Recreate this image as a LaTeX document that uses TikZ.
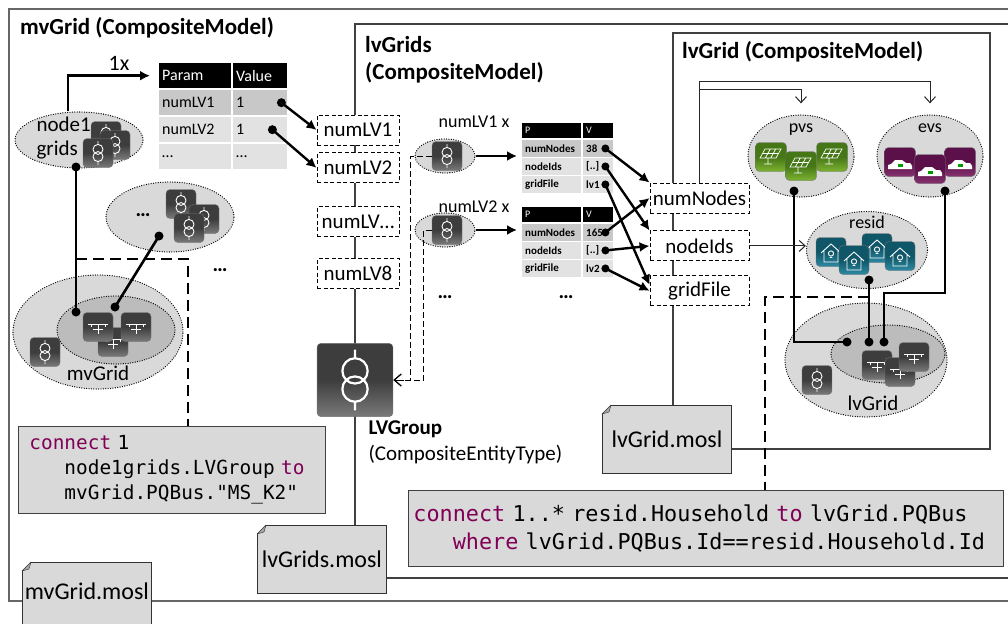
\documentclass[tikz,border=0pt]{standalone}
\usepackage{fontspec}
\setmainfont{Carlito}
\setmonofont{DejaVu Sans Mono}
\usetikzlibrary{arrows.meta,positioning,shapes.geometric}

\definecolor{grayTop}{HTML}{3D3D3D}
\definecolor{grayBottom}{HTML}{7A7A7A}
\definecolor{pvTop}{HTML}{467716}
\definecolor{pvBottom}{HTML}{7DB332}
\definecolor{evTop}{HTML}{5B1049}
\definecolor{evBottom}{HTML}{85326F}
\definecolor{hhTop}{HTML}{0F5668}
\definecolor{hhBottom}{HTML}{2E8AA3}
\definecolor{kw}{HTML}{7F0055}
\definecolor{cellDark}{HTML}{C8C8C8}
\definecolor{cellLight}{HTML}{E2E2E2}
\definecolor{codeFill}{HTML}{D9D9D9}
\definecolor{cloudFill}{HTML}{D9D9D9}
\definecolor{cloudCore}{HTML}{BCBCBC}

\begin{document}
\begin{tikzpicture}[x=1pt, y=-1pt,
    every node/.style={font=\fontsize{21}{24}\selectfont},
    title/.style={font=\fontsize{23}{27}\selectfont\bfseries, anchor=base west, align=left, inner sep=0pt},
    cloud/.style={ellipse, draw, line cap=round, dash pattern=on 0pt off 2.4pt, line width=1.3pt, fill=cloudFill, inner sep=0pt},
    core/.style={cloud, fill=cloudCore},
    slot/.style={draw, dash pattern=on 4pt off 2.5pt, line width=0.9pt, fill=white, minimum width=82pt, minimum height=30pt, inner sep=0pt},
    prop/.style={slot, minimum width=99pt},
    cell/.style={anchor=north west, text width=#1, inner xsep=3pt, inner ysep=0pt, align=left, fill=cellLight},
    big cell/.style={cell=#1, minimum height=25pt, font=\fontsize{16}{18}\selectfont},
    small cell/.style={cell=#1, minimum height=16.5pt, font=\fontsize{11}{13}\selectfont\bfseries},
    code/.style={draw=black!75, line width=0.9pt, fill=codeFill, anchor=north west, align=left, inner ysep=0pt},
    note/.style={draw=black!80, line width=0.9pt, fill=codeFill, anchor=north west, minimum width=129pt, minimum height=68pt, inner sep=0pt, font=\fontsize{24}{28}\selectfont},
    dot/.style={circle, fill, inner sep=0pt, minimum size=9pt},
    link/.style={line width=2.6pt},
    arr/.style={-{Latex[length=10pt, width=10pt]}, line width=2.4pt},
    thin arr/.style={-{Straight Barb[length=6pt, width=11pt]}, line width=1pt, black!85},
    dashed arr/.style={-{Straight Barb[length=7pt, width=12pt]}, dash pattern=on 6pt off 3pt, line width=1pt},
    bracket/.style={dash pattern=on 11pt off 6pt, line width=1.7pt},
    glyph/.style={white, line width=0.9pt},
    tile/.style 2 args={rounded corners=4pt, minimum width=30pt, minimum height=29pt, inner sep=0pt, draw=black!55, top color=#1, bottom color=#2, middle color=#1},
    trafo/.pic={
      \node[tile={grayTop}{grayBottom}] (-box) {};
      \draw[glyph] (0pt,3.6pt) circle (5pt) (0pt,-3.6pt) circle (5pt)
        (0pt,8.6pt) -- (0pt,12pt) (0pt,-8.6pt) -- (0pt,-12pt);
    },
    bus/.pic={
      \node[tile={grayTop}{grayBottom}] (-box) {};
      \draw[glyph] (-10pt,3pt) -- (10pt,3pt) (-7pt,3pt) -- (-7pt,0pt) (7pt,3pt) -- (7pt,0pt)
        (0pt,3pt) -- (0pt,-7pt) (-5pt,-2pt) -- (5pt,-2pt);
    },
    pv/.pic={
      \node[tile={pvTop}{pvBottom}, minimum width=31pt] (-box) {};
      \draw[glyph, line width=0.7pt] (-11pt,-1pt) -- (5pt,-1pt) -- (10pt,8pt) -- (-6pt,8pt) -- cycle
        (-5.7pt,-1pt) -- (-0.7pt,8pt) (-0.3pt,-1pt) -- (4.7pt,8pt) (-8.5pt,3.5pt) -- (7.5pt,3.5pt)
        (-3pt,-1pt) -- (-3pt,-7pt) (-7pt,-7pt) -- (1pt,-7pt);
    },
    ev/.pic={
      \node[tile={evTop}{evBottom}, minimum width=31pt] (-box) {};
      \fill[white] (-12pt,-7pt) -- (12pt,-7pt) -- (12pt,-4pt) .. controls (11pt,-1pt) .. (6pt,-1pt)
        -- (2pt,2pt) -- (-5pt,2pt) -- (-9pt,-2pt) -- (-12pt,-3pt) -- cycle;
      \fill[green!60!black] (-2pt,-5pt) rectangle (3pt,-2pt);
    },
    house/.pic={
      \node[tile={hhTop}{hhBottom}] (-box) {};
      \draw[glyph] (-10pt,-1pt) -- (0pt,8pt) -- (10pt,-1pt) (-7pt,1.5pt) -- (-7pt,-10pt) -- (7pt,-10pt) -- (7pt,1.5pt)
        (0pt,-1.5pt) circle (2.6pt) (-1.4pt,-5.5pt) -- (1.4pt,-5.5pt);
    },
    dogear/.pic={
      \fill[white] (-1pt,1pt) -- (10pt,1pt) -- (-1pt,-10pt) -- cycle;
      \draw[black!80, fill=black!35, line join=round] (9pt,0pt) -- (0pt,-9pt) -- (7pt,-7pt) -- cycle;
    }
]
\useasboundingbox (0,0) rectangle (1008,623);
\clip (0,0) rectangle (1008,623);
\fill[white] (0,0) rectangle (1008,623);

\draw[black!60, line width=1.8pt] (9,9) rectangle (1020,601);
\draw[black!75, line width=1.3pt] (355,24) rectangle (1020,578);
\draw[black!75, line width=1.1pt] (673,33) rectangle (990,449);

\node[title] (mvTitle) at (20,35) {mvGrid (CompositeModel)};
\node[title] (lvGridsTitle) at (365,80) {lvGrids\\(CompositeModel)};
\node[title] (lvGridTitle) at (682,59) {lvGrid (CompositeModel)};

% medium voltage grid
\node[cloud, minimum width=128pt, minimum height=56pt] (node1grids) at (79,140) {};
\node[anchor=base west, align=left] (node1Text) at (33,155) {node1\\grids};
\pic (n1TrafoA) at (106,136) {trafo};
\pic (n1TrafoB) at (115,145) {trafo};
\pic (n1TrafoC) at (98,153) {trafo};
\node[dot] (n1Dot) at (76,167) {};

\node[cloud, minimum width=128pt, minimum height=70pt] (moreGrids) at (170,217) {};
\node (moreText) at (143,215) {\textbf{…}};
\pic (mgTrafoA) at (181,204) {trafo};
\pic (mgTrafoB) at (204,219) {trafo};
\pic (mgTrafoC) at (189,228) {trafo};
\node[dot] (mgDot) at (159,236) {};
\node (mvMore) at (220,270) {\textbf{…}};

\node[cloud, minimum width=170pt, minimum height=114pt] (mvGrid) at (98,332) {};
\node[core, minimum width=118pt, minimum height=68pt] (mvBuses) at (116,330) {};
\node[anchor=base] (mvGridText) at (98,380) {mvGrid};
\pic (mvTrafo) at (45,352) {trafo};
\pic (mvBusB) at (113,342) {bus};
\pic (mvBusA) at (98,327) {bus};
\pic (mvBusC) at (136,327) {bus};
\node[dot] (mvDotA) at (76,312) {};
\node[dot] (mvDotB) at (115,307) {};
\draw[link] (n1Dot.center) -- (mvDotA.center);
\draw[link] (mgDot.center) -- (mvDotB.center);

\node[big cell=66pt, fill=black, text=white] (par-0-1) at (159,63) {Param};
\node[big cell=48pt, fill=black, text=white] (par-0-2) at (233,63) {Value};
\foreach \r/\y/\shade/\key/\val in {1/90/cellDark/numLV1/1, 2/117/cellLight/numLV2/1, 3/144/cellLight/…/…} {
  \node[big cell=66pt, fill=\shade] (par-\r-1) at (159,\y) {\key};
  \node[big cell=48pt, fill=\shade] (par-\r-2) at (233,\y) {\val};
}
\node[dot] (parDotA) at ([xshift=-6pt]par-1-2.east) {};
\node[dot] (parDotB) at ([xshift=-15pt]par-2-2.east) {};
\draw[arr, shorten >=9pt] ([xshift=-11pt]node1grids.north) |- (par-0-1.west)
  node[pos=0.78, above=1pt, font=\fontsize{22}{24}\selectfont] (onceLabel) {1x};

% low voltage grids
\node[slot] (numLVa) at (358,130) {numLV1};
\node[slot, below=7pt of numLVa] (numLVb) {numLV2};
\node[slot, below=23pt of numLVb] (numLVc) {numLV…};
\node[slot, below=21pt of numLVc] (numLVh) {numLV8};
\draw[arr] (parDotA.center) -- (numLVa.west);
\draw[arr] (parDotB.center) -- (numLVb.west);

\node[cloud, minimum width=60pt, minimum height=34pt] (lvCloudA) at (445,156) {};
\pic (lvTrafoA) at (447,156) {trafo};
\node[font=\fontsize{18}{20}\selectfont] (lvLabelA) at (474,122) {numLV1 x};
\node[cloud, minimum width=60pt, minimum height=34pt] (lvCloudB) at (445,230) {};
\pic (lvTrafoB) at (447,230) {trafo};
\node[font=\fontsize{18}{20}\selectfont] (lvLabelB) at (474,207) {numLV2 x};
\node (lvMoreA) at (445,297) {\textbf{…}};
\node (lvMoreB) at (566,297) {\textbf{…}};

\foreach \tab/\dy/\num/\file in {A/0/38/lv1, B/84/165/lv2} {
  \node[cell=53pt, minimum height=15pt, fill=black, text=white, font=\fontsize{10}{12}\selectfont] (\tab-0-1) at (522,{123+\dy}) {P};
  \node[cell=24pt, minimum height=15pt, fill=black, text=white, font=\fontsize{10}{12}\selectfont] (\tab-0-2) at (583,{123+\dy}) {V};
  \foreach \r/\y/\shade/\key/\val in {1/140/cellDark/numNodes/\num, 2/158/cellLight/nodeIds/{[..]}, 3/176/cellLight/gridFile/\file} {
    \node[small cell=53pt, fill=\shade] (\tab-\r-1) at (522,{\y+\dy}) {\key};
    \node[small cell=24pt, fill=\shade] (\tab-\r-2) at (583,{\y+\dy}) {\val};
    \node[dot, minimum size=8pt] (\tab-dot-\r) at ([xshift=-8pt]\tab-\r-2.east) {};
  }
}
\draw[arr, shorten >=5pt] (lvCloudA.east) -- (lvCloudA.east -| A-0-1.west);
\draw[arr, shorten >=5pt] (lvCloudB.east) -- (lvCloudB.east -| B-0-1.west);

% low voltage grid
\node[prop] (numNodes) at (699.5,198) {numNodes};
\node[prop, below=17pt of numNodes] (nodeIds) {nodeIds};
\node[prop, below=14pt of nodeIds] (gridFile) {gridFile};
\draw[arr] (A-dot-1.center) -- (numNodes.north west);
\draw[arr] (A-dot-2.center) -- (nodeIds.north west);
\draw[arr] (A-dot-3.center) -- ([yshift=6pt]gridFile.west);
\draw[arr] (B-dot-1.center) -- (numNodes.west);
\draw[arr] (B-dot-2.center) -- (nodeIds.west);
\draw[arr] (B-dot-3.center) -- (gridFile.west);

\node[cloud, minimum width=106pt, minimum height=82pt] (pvs) at (801,156) {};
\node[anchor=base, font=\fontsize{18}{20}\selectfont] (pvsText) at (801,132) {pvs};
\pic (pvLeft) at (771,157) {pv};
\pic (pvRight) at (832,157) {pv};
\pic (pvMid) at (801,166) {pv};
\node[dot] (pvsDot) at (794,191) {};

\node[cloud, minimum width=106pt, minimum height=82pt] (evs) at (930,156) {};
\node[anchor=base, font=\fontsize{18}{20}\selectfont] (evsText) at (930,132) {evs};
\pic (evLeft) at (900,162) {ev};
\pic (evRight) at (960,162) {ev};
\pic (evMid) at (930,169) {ev};
\node[dot] (evsDot) at (945,191) {};

\node[cloud, minimum width=121pt, minimum height=77pt] (resid) at (867,250) {};
\node[anchor=base, font=\fontsize{18}{20}\selectfont] (residText) at (867,228) {resid};
\pic (hhA) at (831,252) {house};
\pic (hhC) at (877,248) {house};
\pic (hhB) at (854,260) {house};
\pic (hhD) at (900,256) {house};
\node[dot] (residDot) at (869,280) {};

\node[cloud, minimum width=162pt, minimum height=114pt] (lvGrid) at (866,360) {};
\node[core, minimum width=114pt, minimum height=58pt] (lvBuses) at (888,354) {};
\node[anchor=base] (lvGridText) at (873,410) {lvGrid};
\pic (lvTrafo) at (817,380) {trafo};
\pic (lvBusA) at (877,365) {bus};
\pic (lvBusB) at (900,372) {bus};
\pic (lvBusC) at (914,357) {bus};
\node[dot] (lvDotA) at (847,342) {};
\node[dot] (lvDotB) at (869,342) {};
\node[dot] (lvDotC) at (884,342) {};

\draw[link] (pvsDot.center) |- (lvDotA.center);
\draw[link] (residDot.center) -- (lvDotB.center);
\draw[link] (evsDot.center) -- ++(0,102) -| (lvDotC.center);

\draw[thin arr, shorten >=11pt] (numNodes.north) -- ++(0,-101) -| (evs.north);
\draw[thin arr, shorten >=11pt] (numNodes.north) -- ++(0,-93) -| (pvs.north);
\draw[thin arr] (nodeIds.east) -- (nodeIds.east -| resid.west);

% entity type and mappings
\pic[scale=2.53, transform shape, glyph/.style={white, line width=2.2pt}] (lvGroup) at (355,380) {trafo};
\node[anchor=base west, align=left, font=\fontsize{21}{26}\selectfont] (lvGroupText) at (365,460) {\textbf{LVGroup}\\(CompositeEntityType)};
\draw[dashed arr] (lvTrafoA-box.west) -- ++(-21,0) |- (lvGroup-box.east);
\draw[dashed arr] (lvTrafoB-box.west) -- ++(-8,0) |- (lvGroup-box.east);

\node[code, text width=285pt, inner xsep=11pt, minimum height=87pt, font=\fontsize{19.4}{25}\selectfont\ttfamily] (mvCode) at (18,426)
  {\textcolor{kw}{connect} 1\\
   \phantom{xxx}node1grids.LVGroup \textcolor{kw}{to}\\
   \phantom{xxx}mvGrid.PQBus."MS\_K2"};
\node[code, text width=585pt, inner xsep=5pt, minimum height=76pt, font=\fontsize{21.8}{28}\selectfont\ttfamily] (lvCode) at (408,490)
  {\textcolor{kw}{connect} 1..* resid.Household \textcolor{kw}{to} lvGrid.PQBus\\
   \phantom{xxx}\textcolor{kw}{where} lvGrid.PQBus.Id==resid.Household.Id};

\coordinate (mvBend) at (188,259);
\draw[bracket] (mvBend -| n1Dot) -- (mvBend) -- (mvBend |- mvCode.north);
\coordinate (lvBend) at (765,297);
\draw[bracket] (lvBend -| residDot) -- (lvBend) -- (lvBend |- lvCode.north);

\node[note] (lvGridNote) at (602,405) {lvGrid.mosl};
\node[note] (lvGridsNote) at (257,525) {lvGrids.mosl};
\node[note, minimum height=80pt, text depth=22pt] (mvGridNote) at (22,562) {mvGrid.mosl};
\foreach \n in {lvGridNote, lvGridsNote, mvGridNote}
  \pic at (\n.north west) {dogear};

\end{tikzpicture}
\end{document}
